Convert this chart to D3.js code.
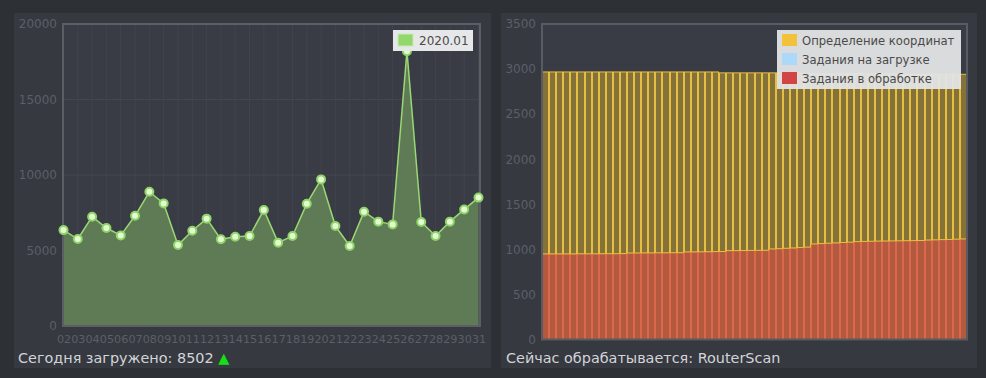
<!DOCTYPE html>
<html>
<head>
<meta charset="utf-8">
<script src="https://cdn.jsdelivr.net/npm/d3@7"></script>
<style>
  body { margin: 0; background: #2d3035; }
  svg { display: block; font-family: "DejaVu Sans", Verdana, sans-serif; }
</style>
</head>
<body>
<script>
// левый график: загрузки по дням месяца
var days = ["02","03","04","05","06","07","08","09","10","11","12","13","14","15","16",
            "17","18","19","20","21","22","23","24","25","26","27","28","29","30","31"];
var loaded = [6350, 5760, 7240, 6490, 6000, 7300, 8890, 8120, 5360, 6310,
              7110, 5740, 5910, 5960, 7680, 5520, 5960, 8100, 9710, 6620,
              5300, 7570, 6910, 6730, 18200, 6890, 5960, 6910, 7720, 8502];
var loadedName = "2020.01";
var yTicksLeft = [0, 5000, 10000, 15000, 20000];
var todayText = "Сегодня загружено: 8502";

// правый график: очередь заданий (60 отсчётов)
var seriesNames = ["Задания в обработке", "Задания на загрузке", "Определение координат"];
var processing = [950, 950, 950, 950, 950, 951, 951, 951, 952, 952, 952, 953,
                  960, 960, 961, 961, 962, 962, 963, 963,
                  972, 972, 973, 974, 975, 976,
                  986, 986, 987, 988, 989, 990,
                  1005, 1008, 1012, 1016, 1020, 1025,
                  1060, 1064, 1068, 1072, 1076, 1080,
                  1086, 1088, 1090, 1092, 1093, 1094, 1095, 1096, 1097, 1098,
                  1104, 1106, 1108, 1110, 1113, 1116];
var onLoading = [0, 0, 0, 0, 0, 0, 0, 0, 0, 0, 0, 0, 0, 0, 0, 0, 0, 0, 0, 0,
                 0, 0, 0, 0, 0, 0, 0, 0, 0, 0, 0, 0, 0, 0, 0, 0, 0, 0, 0, 0,
                 0, 0, 0, 0, 0, 0, 0, 0, 0, 0, 0, 0, 0, 0, 0, 0, 0, 0, 0, 0];
var coords = [2018, 2018, 2018, 2018, 2018, 2017, 2017, 2017, 2016, 2016, 2016, 2015,
              2008, 2008, 2007, 2007, 2006, 2006, 2005, 2005,
              1996, 1996, 1995, 1994, 1993, 1982,
              1972, 1972, 1971, 1970, 1969, 1968,
              1953, 1950, 1946, 1934, 1930, 1925,
              1890, 1886, 1882, 1878, 1874, 1870,
              1864, 1862, 1860, 1858, 1857, 1856, 1847, 1846, 1845, 1844,
              1838, 1836, 1834, 1832, 1829, 1826];
var yTicksRight = [0, 500, 1000, 1500, 2000, 2500, 3000, 3500];
var nowText = "Сейчас обрабатывается: RouterScan";

var w = 986, h = 378;
var svg = d3.select("body").append("svg").attr("width", w).attr("height", h);

// панели
svg.append("rect").attr("x", 14).attr("y", 13).attr("width", 477).attr("height", 355).attr("fill", "#363940");
svg.append("rect").attr("x", 501).attr("y", 13).attr("width", 476).attr("height", 355).attr("fill", "#363940");

// ---------- левый график ----------
var L = { left: 63, right: 480, top: 24, bottom: 326 };
var xL = d3.scalePoint().domain(days).range([L.left + 0.5, L.right - 1.5]);
var yL = d3.scaleLinear().domain([0, 20000]).range([L.bottom, L.top]);

var gL = svg.append("g");
gL.append("rect").attr("x", L.left).attr("y", L.top)
  .attr("width", L.right - L.left).attr("height", L.bottom - L.top).attr("fill", "#393c44");

// сетка
gL.selectAll(".vgrid").data(days).enter().append("line")
  .attr("x1", function (d) { return xL(d); }).attr("x2", function (d) { return xL(d); })
  .attr("y1", L.top).attr("y2", L.bottom)
  .attr("stroke", "#41444c").attr("stroke-width", 1);
gL.selectAll(".hgrid").data(yTicksLeft).enter().append("line")
  .attr("x1", L.left).attr("x2", L.right)
  .attr("y1", function (d) { return yL(d); }).attr("y2", function (d) { return yL(d); })
  .attr("stroke", "#43464e").attr("stroke-width", 1);

var area = d3.area()
  .x(function (d, i) { return xL(days[i]); })
  .y0(yL(0))
  .y1(function (d) { return yL(d); });
var line = d3.line()
  .x(function (d, i) { return xL(days[i]); })
  .y(function (d) { return yL(d); });

gL.append("path").attr("d", area(loaded)).attr("fill", "#5f7b55");
gL.append("path").attr("d", line(loaded)).attr("fill", "none")
  .attr("stroke", "#9ad874").attr("stroke-width", 1.5);

gL.append("rect").attr("x", L.left).attr("y", L.top)
  .attr("width", L.right - L.left).attr("height", L.bottom - L.top)
  .attr("fill", "none").attr("stroke", "#5b5e64").attr("stroke-width", 2);

gL.selectAll(".pt").data(loaded).enter().append("circle")
  .attr("cx", function (d, i) { return xL(days[i]); })
  .attr("cy", function (d) { return yL(d); })
  .attr("r", 4)
  .attr("fill", "#e4fcd0").attr("stroke", "#8fd46a").attr("stroke-width", 2);

// оси
var axL = gL.append("g").attr("transform", "translate(" + (L.left - 1) + ",0)")
  .call(d3.axisLeft(yL).tickValues(yTicksLeft).tickFormat(d3.format("d")).tickSize(0).tickPadding(5))
  .attr("font-family", null);
axL.select(".domain").remove();
axL.selectAll("text").attr("fill", "#5b5f67").attr("font-size", "12px");

var axB = gL.append("g").attr("transform", "translate(0," + L.bottom + ")")
  .call(d3.axisBottom(xL).tickSize(0).tickPadding(9))
  .attr("font-family", null);
axB.select(".domain").remove();
axB.selectAll("text").attr("fill", "#5b5f67").attr("font-size", "11.2px");

// легенда
var lgL = gL.append("g").attr("transform", "translate(393,30)");
lgL.append("rect").attr("width", 80).attr("height", 21).attr("fill", "#e6e7e8");
lgL.append("rect").attr("x", 5).attr("y", 4).attr("width", 15).attr("height", 12)
  .attr("fill", "#92d86c").attr("stroke", "#c9e9b6").attr("stroke-width", 1);
lgL.append("text").attr("x", 26).attr("y", 15).attr("font-size", "12px").attr("fill", "#4a4a4a").text(loadedName);

var tL = svg.append("text").attr("x", 18).attr("y", 363).attr("font-size", "14.4px").attr("fill", "#d2d4d8");
tL.append("tspan").text(todayText + " ");
tL.append("tspan").attr("fill", "#14e014").text("▲");

// ---------- правый график ----------
var R = { left: 542, right: 967, top: 24, bottom: 339.5 };
var slots = d3.range(processing.length);
var xR = d3.scaleBand().domain(slots).range([R.left, R.right]).padding(0);
var yR = d3.scaleLinear().domain([0, 3500]).range([R.bottom, R.top]);

var gR = svg.append("g");
gR.append("rect").attr("x", R.left).attr("y", R.top)
  .attr("width", R.right - R.left).attr("height", R.bottom - R.top).attr("fill", "#393c44");

var table = slots.map(function (i) {
  var row = { slot: i };
  row[seriesNames[0]] = processing[i];
  row[seriesNames[1]] = onLoading[i];
  row[seriesNames[2]] = coords[i];
  return row;
});
var stacked = d3.stack().keys(seriesNames)(table);
var fills = { "Задания в обработке": "#b2593e", "Задания на загрузке": "#7e98ad", "Определение координат": "#847238" };
var strokes = { "Задания в обработке": "#d9684c", "Задания на загрузке": "#a8d4f5", "Определение координат": "#e6bf40" };
var legendColors = { "Задания в обработке": "#d24545", "Задания на загрузке": "#acd8fa", "Определение координат": "#f2c23a" };

// каждая колонка: обводка с обеих сторон, между соседними видна двойная светлая линия
gR.selectAll(".layer").data(stacked).enter().append("g")
  .attr("class", "layer")
  .selectAll("rect").data(function (s) {
    return s.map(function (d) { return { key: s.key, d: d }; });
  })
  .enter().append("rect")
  .filter(function (o) { return o.d[1] - o.d[0] > 0; })
  .attr("x", function (o) { return Math.round(xR(o.d.data.slot)) + 0.5; })
  .attr("width", function (o) {
    return Math.round(xR(o.d.data.slot) + xR.bandwidth()) - Math.round(xR(o.d.data.slot)) - 1;
  })
  .attr("y", function (o) { return yR(o.d[1]); })
  .attr("height", function (o) { return yR(o.d[0]) - yR(o.d[1]); })
  .attr("fill", function (o) { return fills[o.key]; })
  .attr("stroke", function (o) { return strokes[o.key]; })
  .attr("stroke-width", 1);

gR.append("rect").attr("x", R.left).attr("y", R.top)
  .attr("width", R.right - R.left).attr("height", R.bottom - R.top)
  .attr("fill", "none").attr("stroke", "#585b61").attr("stroke-width", 2);

var axR = gR.append("g").attr("transform", "translate(" + (R.left - 1) + ",0)")
  .call(d3.axisLeft(yR).tickValues(yTicksRight).tickFormat(d3.format("d")).tickSize(0).tickPadding(5))
  .attr("font-family", null);
axR.select(".domain").remove();
axR.selectAll("text").attr("fill", "#5b5f67").attr("font-size", "12px");

// легенда
var lgR = gR.append("g").attr("transform", "translate(777,30)");
lgR.append("rect").attr("width", 184).attr("height", 59).attr("fill", "#e3e4e5").attr("opacity", 0.95);
var legendOrder = [seriesNames[2], seriesNames[1], seriesNames[0]];
var li = lgR.selectAll(".li").data(legendOrder).enter().append("g")
  .attr("transform", function (d, i) { return "translate(5," + (4 + i * 19) + ")"; });
li.append("rect").attr("width", 15).attr("height", 12)
  .attr("fill", function (d) { return legendColors[d]; });
li.append("text").attr("x", 20).attr("y", 11).attr("font-size", "11.6px").attr("fill", "#4a4a4a")
  .text(function (d) { return d; });

svg.append("text").attr("x", 506).attr("y", 363).attr("font-size", "14.4px").attr("fill", "#d2d4d8").text(nowText);
</script>
</body>
</html>
